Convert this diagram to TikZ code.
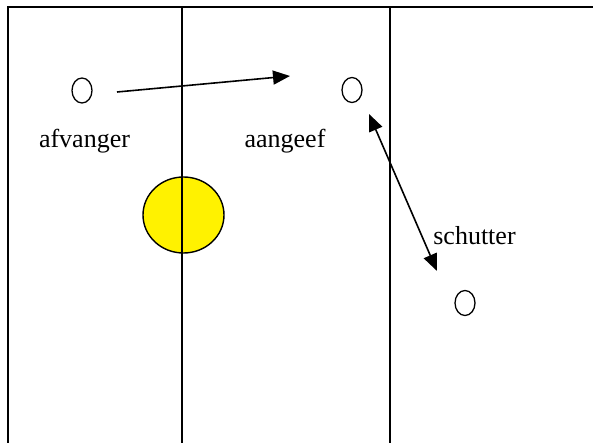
\documentclass[tikz,border=0pt]{standalone}
\usepackage{fontspec}
\setmainfont{Liberation Serif}
\usetikzlibrary{arrows.meta,shapes.geometric}
\begin{document}
\begin{tikzpicture}[x=1pt,y=-1pt,
  field/.style={line width=2pt,black},
  player/.style={draw,ellipse,line width=1.3pt,minimum width=20pt,minimum height=25pt,inner sep=0pt},
  lbl/.style={anchor=base,inner sep=0pt,font=\fontsize{26}{30}\selectfont},
  pass/.style={line width=1.6pt,-{Triangle[length=17pt,width=14pt]}},
  dpass/.style={line width=1.6pt,{Triangle[length=17pt,width=14pt]}-{Triangle[length=17pt,width=14pt]}}]
\useasboundingbox (0,0) rectangle (593,443);
% field lines
\coordinate (tl) at (7.5,7.5);
\coordinate (tr) at (593,7.5);
\coordinate (bl) at (7.5,443);
\coordinate (m1t) at (182,7.5);
\coordinate (m1b) at (182,443);
\coordinate (m2t) at (390,7.5);
\coordinate (m2b) at (390,443);
% ball
\node[draw,ellipse,fill=yellow,line width=1.4pt,minimum width=81pt,minimum height=76pt,inner sep=0pt] (ball) at (183.5,215) {};
\draw[field] (bl) -- (tl) -- (tr);
\draw[field] (m1t) -- (m1b);
\draw[field] (m2t) -- (m2b);
% players
\node[player] (p1) at (82,90.5) {};
\node[player] (p2) at (352,90) {};
\node[player] (p3) at (465,303) {};
\node[lbl] (l1) at (84.5,148) {afvanger};
\node[lbl] (l2) at (285,148) {aangeef};
\node[lbl] (l3) at (474.5,244) {schutter};
% arrows
\coordinate (a1s) at (117,92);
\coordinate (a1e) at (290,76);
\coordinate (a2s) at (369,114);
\coordinate (a2e) at (437,271);
\draw[pass] (a1s) -- (a1e);
\draw[dpass] (a2s) -- (a2e);
\end{tikzpicture}
\end{document}
